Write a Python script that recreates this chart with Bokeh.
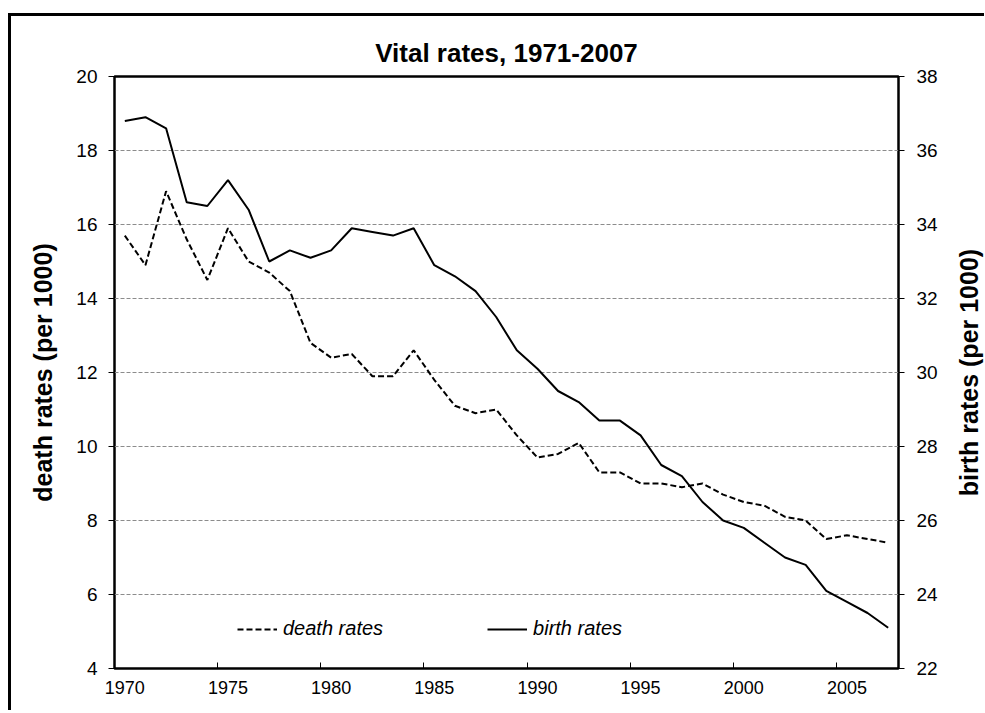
from bokeh.plotting import figure
from bokeh.layouts import row
from bokeh.models import Range1d, LinearAxis, FixedTicker, Legend, LegendItem
from bokeh.embed import file_html
from bokeh.resources import INLINE

years = list(range(1970, 2008))
death_rates = [15.7, 14.9, 16.9, 15.6, 14.5, 15.9, 15.0, 14.7, 14.2, 12.8,
               12.4, 12.5, 11.9, 11.9, 12.6, 11.8, 11.1, 10.9, 11.0, 10.3,
               9.7, 9.8, 10.1, 9.3, 9.3, 9.0, 9.0, 8.9, 9.0, 8.7,
               8.5, 8.4, 8.1, 8.0, 7.5, 7.6, 7.5, 7.4]
birth_rates = [36.8, 36.9, 36.6, 34.6, 34.5, 35.2, 34.4, 33.0, 33.3, 33.1,
               33.3, 33.9, 33.8, 33.7, 33.9, 32.9, 32.6, 32.2, 31.5, 30.6,
               30.1, 29.5, 29.2, 28.7, 28.7, 28.3, 27.5, 27.2, 26.5, 26.0,
               25.8, 25.4, 25.0, 24.8, 24.1, 23.8, 23.5, 23.1]
x_tick_labels = [1970, 1975, 1980, 1985, 1990, 1995, 2000, 2005]
death_ticks = [4, 6, 8, 10, 12, 14, 16, 18, 20]
birth_ticks = [22, 24, 26, 28, 30, 32, 34, 36, 38]

FONT = "Liberation Sans"
H = 694
TOP, BOTTOM = 60, 42

p = figure(width=929, height=H,
           x_range=Range1d(years[0] - 0.5, years[-1] + 0.5),
           y_range=Range1d(death_ticks[0], death_ticks[-1]),
           output_backend="svg", toolbar_location=None,
           min_border_left=103, min_border_right=40,
           min_border_top=TOP, min_border_bottom=BOTTOM,
           title="Vital rates, 1971-2007")
p.extra_y_ranges = {"birth": Range1d(birth_ticks[0], birth_ticks[-1])}

p.title.align = "center"
p.title.text_font = FONT
p.title.text_font_size = "26px"
p.title.text_font_style = "bold"
p.title.text_color = "black"
p.title.standoff = 17

p.outline_line_color = "black"
p.outline_line_width = 2.5
p.outline_line_alpha = 1.0

# x axis: labels at category centres, inward ticks at category boundaries
p.xaxis.ticker = FixedTicker(ticks=x_tick_labels,
                             minor_ticks=[t - 0.5 for t in x_tick_labels[1:]])
p.xaxis.major_tick_in = 0
p.xaxis.major_tick_out = 0
p.xaxis.minor_tick_in = 6
p.xaxis.minor_tick_out = 0
p.xaxis.minor_tick_line_color = "black"
p.xaxis.minor_tick_line_width = 1
p.xaxis.axis_line_color = None
p.xaxis.major_label_standoff = 12
p.xaxis.major_label_text_font = FONT
p.xaxis.major_label_text_font_size = "18px"
p.xaxis.major_label_text_color = "black"

def style_y(ax, standoff):
    ax.major_tick_in = 0
    ax.major_tick_out = 6
    ax.minor_tick_in = 0
    ax.minor_tick_out = 0
    ax.major_tick_line_color = "black"
    ax.major_tick_line_width = 1
    ax.axis_line_color = None
    ax.major_label_standoff = standoff
    ax.major_label_text_font = FONT
    ax.major_label_text_font_size = "19px"
    ax.major_label_text_color = "black"

def style_title(ax, title, standoff):
    ax.axis_label = title
    ax.axis_label_standoff = standoff
    ax.axis_label_text_font = FONT
    ax.axis_label_text_font_style = "bold"
    ax.axis_label_text_font_size = "25px"
    ax.axis_label_text_color = "black"

p.yaxis.ticker = FixedTicker(ticks=death_ticks)
style_y(p.yaxis[0], 11)
style_title(p.yaxis[0], "death rates (per 1000)", 16)

right_axis = LinearAxis(y_range_name="birth", ticker=FixedTicker(ticks=birth_ticks))
style_y(right_axis, 12)
p.add_layout(right_axis, "right")

p.xgrid.visible = False
p.ygrid.ticker = FixedTicker(ticks=death_ticks)
p.ygrid.grid_line_color = "#8c8c8c"
p.ygrid.grid_line_dash = "4 2"
p.ygrid.grid_line_width = 1

r_death = p.line(years, death_rates, line_color="black", line_width=2, line_dash="6 3")
r_birth = p.line(years, birth_rates, y_range_name="birth", line_color="black", line_width=2)

legend = Legend(items=[LegendItem(label="death rates", renderers=[r_death]),
                       LegendItem(label="birth rates", renderers=[r_birth])],
                orientation="horizontal", location=(123, 28),
                glyph_width=40, glyph_height=20, label_standoff=6, spacing=104,
                padding=0, margin=0, border_line_color=None,
                background_fill_alpha=0,
                label_text_font=FONT, label_text_font_style="italic",
                label_text_font_size="20px", label_text_color="black")
p.add_layout(legend)

# narrow companion panel carrying the secondary-axis title (reads bottom-to-top)
q = figure(width=44, height=H,
           x_range=Range1d(0, 1),
           y_range=Range1d(birth_ticks[0], birth_ticks[-1]),
           output_backend="svg", toolbar_location=None,
           x_axis_location=None,
           min_border_left=42, min_border_right=0,
           min_border_top=TOP, min_border_bottom=BOTTOM)
q.outline_line_color = None
q.xgrid.visible = False
q.ygrid.visible = False
q.yaxis.ticker = FixedTicker(ticks=[])
q.yaxis.major_tick_in = 0
q.yaxis.major_tick_out = 0
q.yaxis.minor_tick_in = 0
q.yaxis.minor_tick_out = 0
q.yaxis.axis_line_color = None
q.yaxis.major_label_standoff = 0
style_title(q.yaxis[0], "birth rates (per 1000)", 0)

layout = row(p, q, spacing=0)
# outer chart-area frame: only its top and left edges fall inside the picture
layout.styles = {"margin-top": "13px", "margin-left": "8px",
                 "border-top": "3px solid black", "border-left": "3px solid black"}

open("out.html", "w").write(file_html(layout, INLINE))
